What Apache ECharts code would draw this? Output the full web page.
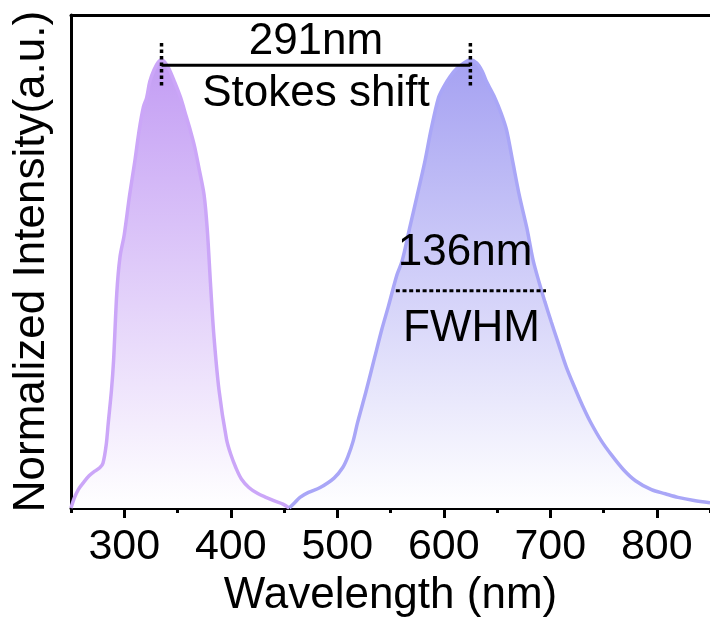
<!DOCTYPE html>
<html>
<head>
<meta charset="utf-8">
<script src="https://cdn.jsdelivr.net/npm/echarts@6/dist/echarts.min.js"></script>
<style>html,body{margin:0;padding:0;background:#fff;}#c{width:710px;height:623px;}</style>
</head>
<body>
<div id="c"></div>
<script>
// Excitation spectrum (wavelength nm, normalized intensity)
const excitationWl = [250,253,257,262,267,272,277,280,283,285,288,290,293,296,300,305,310,314,318,321,324,328,332,335,338,342,347,353,358,362,366,370,375,378,381,384,389,396,400,405,410,417,425,433,441,449,455];
const excitationI  = [0,0.022,0.042,0.058,0.072,0.082,0.09,0.1,0.14,0.19,0.263,0.33,0.48,0.56,0.61,0.698,0.775,0.843,0.895,0.915,0.952,0.978,0.995,1.0,0.995,0.98,0.952,0.915,0.875,0.843,0.807,0.76,0.698,0.62,0.5,0.39,0.263,0.154,0.12,0.089,0.065,0.046,0.033,0.024,0.016,0.009,0];
// Emission spectrum
const emissionWl = [455,460,465,473,484,497,505,510,515,519,527,535,542,548,556,561,568,575,582,588,595,600,606,612,619,625,631,636,640,648,654,659,665,671,678,684,690,695,701,707,715,724,731,738,748,758,769,780,795,808,820,835,850];
const emissionI  = [0,0.012,0.024,0.035,0.046,0.067,0.09,0.115,0.15,0.19,0.26,0.335,0.4,0.45,0.52,0.552,0.625,0.697,0.77,0.843,0.915,0.94,0.963,0.98,0.993,1.0,0.993,0.975,0.952,0.915,0.88,0.843,0.77,0.697,0.625,0.552,0.5,0.46,0.415,0.372,0.315,0.263,0.225,0.191,0.15,0.117,0.085,0.061,0.041,0.032,0.024,0.017,0.012];
// Tick labels
const majorTicks = [300,400,500,600,700,800];
const minorTicks = [250,350,450,550,650,750,850];
// Annotations (data coordinates)
const stokesPeaks = [335, 625];
const stokesLevel = 0.988;
const stokesMarkRange = [0.943, 1.04];
const fwhmRange = [555, 696];
const fwhmLevel = 0.485;
const texts = [
  {t:'291nm', x:480, y:1.04},
  {t:'Stokes shift', x:480, y:0.925},
  {t:'136nm', x:620, y:0.57},
  {t:'FWHM', x:626, y:0.40}
];

const FONT = 'Liberation Sans, Arial, sans-serif';
const chart = echarts.init(document.getElementById('c'));
const zip = (a,b)=>a.map((v,i)=>[v,b[i]]);
const grad = (c)=>new echarts.graphic.LinearGradient(0,0,0,1,[{offset:0,color:c},{offset:1,color:'#ffffff'}]);

chart.setOption({
  animation:false,
  backgroundColor:'#fff',
  grid:{left:71, top:15, width:644, height:506},
  xAxis:[
    {type:'value', min:250, max:850, position:'bottom',
     name:'Wavelength (nm)', nameLocation:'middle', nameGap:48,
     nameTextStyle:{fontFamily:FONT, fontSize:44, color:'#000'},
     axisLine:{show:true, lineStyle:{color:'#000', width:3}},
     axisTick:{show:true, customValues:majorTicks, length:10, lineStyle:{color:'#000', width:3}},
     axisLabel:{show:true, customValues:majorTicks, margin:18, fontFamily:FONT, fontSize:43, color:'#000'},
     splitLine:{show:false}},
    {type:'value', min:250, max:850, position:'bottom',
     axisLine:{show:false},
     axisTick:{show:true, customValues:minorTicks, length:5, lineStyle:{color:'#000', width:3}},
     axisLabel:{show:false}, splitLine:{show:false}},
    {type:'value', min:250, max:850, position:'top',
     axisLine:{show:true, lineStyle:{color:'#000', width:3}},
     axisTick:{show:false}, axisLabel:{show:false}, splitLine:{show:false}}
  ],
  yAxis:{type:'value', min:0, max:1.1,
     name:'Normalized Intensity(a.u.)', nameLocation:'middle', nameGap:17, nameRotate:90,
     nameTextStyle:{fontFamily:FONT, fontSize:44, color:'#000'},
     axisLine:{show:true, lineStyle:{color:'#000', width:3}},
     axisTick:{show:false}, axisLabel:{show:false}, splitLine:{show:false}},
  series:[
    {type:'line', name:'Excitation', data:zip(excitationWl, excitationI), smooth:0.3, symbol:'none',
     lineStyle:{color:'#cba6f8', width:3.5}, areaStyle:{color:grad('#c39df4'), opacity:1}, z:2},
    {type:'line', name:'Emission', data:zip(emissionWl, emissionI), smooth:0.3, symbol:'none',
     lineStyle:{color:'#a9a6f7', width:3.5}, areaStyle:{color:grad('#a5a1f2'), opacity:1}, z:2},
    {type:'line', data:[[stokesPeaks[0], stokesLevel],[stokesPeaks[1], stokesLevel]], symbol:'none',
     lineStyle:{color:'#000', width:3}, z:5},
    {type:'line', data:[[stokesPeaks[0], stokesMarkRange[0]],[stokesPeaks[0], stokesMarkRange[1]]], symbol:'none',
     lineStyle:{color:'#000', width:3.5, type:[3.5,3]}, z:6},
    {type:'line', data:[[stokesPeaks[1], stokesMarkRange[0]],[stokesPeaks[1], stokesMarkRange[1]]], symbol:'none',
     lineStyle:{color:'#000', width:3.5, type:[3.5,3]}, z:6},
    {type:'line', data:[[fwhmRange[0], fwhmLevel],[fwhmRange[1], fwhmLevel]], symbol:'none',
     lineStyle:{color:'#000', width:3, type:[4,2.7]}, z:6}
  ]
});

const g = texts.map(o=>{
  const p = chart.convertToPixel({gridIndex:0}, [o.x, o.y]);
  return {type:'text', x:p[0], y:p[1], z:10,
    style:{text:o.t, fill:'#000', font:'44px ' + FONT, align:'center', verticalAlign:'middle'}};
});
chart.setOption({graphic:g});
</script>
</body>
</html>
